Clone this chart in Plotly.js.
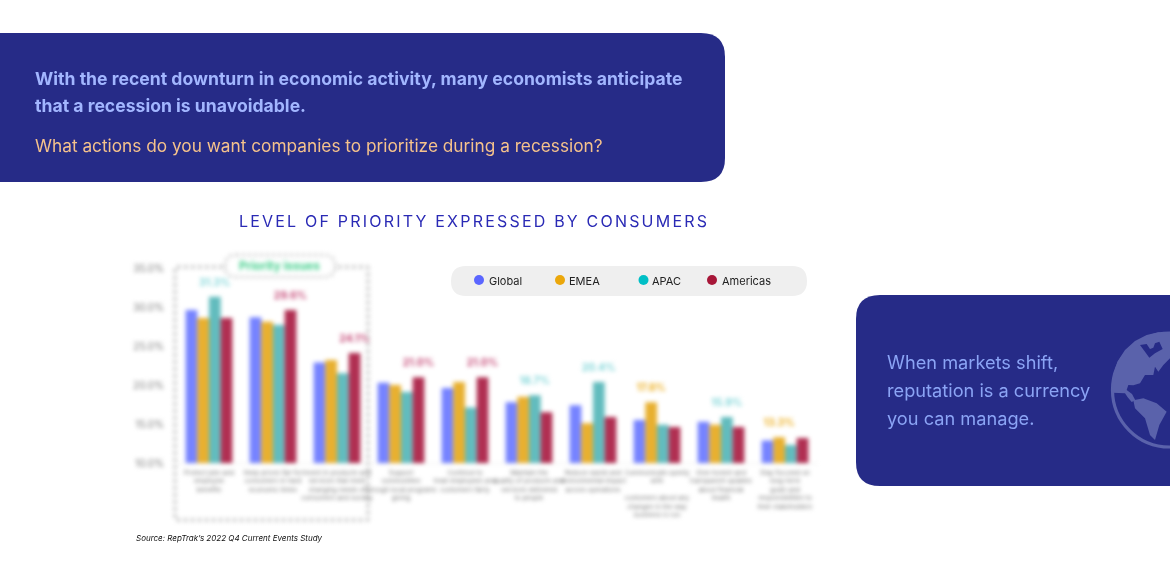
<!DOCTYPE html>
<html><head><meta charset="utf-8">
<script src="https://cdn.plot.ly/plotly-3.0.1.min.js"></script>
<style>html,body{margin:0;padding:0;background:#fff;overflow:hidden}#c{width:1170px;height:585px}
.cartesianlayer{filter:blur(2px)}</style>
</head><body><div id="c"></div>
<script>
const categories = [
 "Protect jobs and<br>employee<br>benefits",
 "Keep prices fair for<br>consumers in hard<br>economic times",
 "Invest in products and<br>services that meet<br>changing needs of<br>consumers and society",
 "Support<br>communities<br>through local programs<br>giving",
 "Continue to<br>treat employees and<br>customers fairly",
 "Maintain the<br>quality of products and<br>services delivered<br>to people",
 "Reduce waste and<br>environmental impact<br>across operations",
 "Communicate openly<br>with<br> <br>customers about any<br>changes in the way<br>business is run",
 "Give honest and<br>transparent updates<br>about financial<br>health",
 "Stay focused on<br>long-term<br>goals and<br>responsibilities to<br>their stakeholders"];
const seriesNames = ["Global","EMEA","APAC","Americas"];
const globalValues   = [29.6,28.7,22.9,20.3,19.6,17.8,17.4,15.5,15.3,12.9];
const emeaValues     = [28.6,28.1,23.2,20.0,20.4,18.5,15.1,17.8,14.9,13.3];
const apacValues     = [31.3,27.7,21.5,19.1,17.1,18.7,20.4,14.9,15.9,12.3];
const americasValues = [28.6,29.6,24.1,21.0,21.0,16.5,15.9,14.6,14.6,13.2];
const yTickValues = [10,15,20,25,30,35];
const yTickLabels = ["10.0%","15.0%","20.0%","25.0%","30.0%","35.0%"];
const barColors   = ["#7683ff","#e8b030","#62bcbe","#b02f52"];
const labelColors = ["#5b6bff","#eba70b","#74d2d5","#c0386a"];
const dotColors   = ["#5b66ff","#eba70b","#00bfc6","#a71638"];
const legendDotX  = [479,560,643.5,712];
const legendTextX = [487,567,650,720];

const all = [globalValues,emeaValues,apacValues,americasValues];
const xs = categories.map((_,i)=>i);
const gap = 0.27, w = (1-gap)/4;
const traces = [];
all.forEach((vals,s)=>traces.push({type:'bar',name:seriesNames[s],x:xs,y:vals,
  marker:{color:barColors[s]},hoverinfo:'skip',showlegend:false,cliponaxis:false}));
all.forEach((vals,s)=>{
  const ix = xs.filter(i=>Math.max(all[0][i],all[1][i],all[2][i],all[3][i])===vals[i] && all.findIndex(a=>a[i]===vals[i])===s);
  traces.push({type:'scatter',mode:'text',x:ix.map(i=>i+(s-1.5)*w),y:ix.map(i=>vals[i]+1.75),
    text:ix.map(i=>vals[i].toFixed(1)+'%'),textfont:{family:'Inter',size:10.5,color:labelColors[s],weight:600},
    hoverinfo:'skip',showlegend:false,cliponaxis:false});
});

const L=177,R=817,T=268,B=463;
const px=x=>(x-L)/(R-L), py=y=>(B-y)/(B-T);
const P=(x,y)=>px(x).toFixed(5)+','+py(y).toFixed(5);
function rr(x0,y0,x1,y1,r){return 'M'+P(x0+r,y0)+' L'+P(x1-r,y0)+' Q'+P(x1,y0)+' '+P(x1,y0+r)+' L'+P(x1,y1-r)+' Q'+P(x1,y1)+' '+P(x1-r,y1)+' L'+P(x0+r,y1)+' Q'+P(x0,y1)+' '+P(x0,y1-r)+' L'+P(x0,y0+r)+' Q'+P(x0,y0)+' '+P(x0+r,y0)+' Z';}
const G=([x,y])=>P(1100+x/3,325+y/3);
const poly=a=>'M'+a.map(G).join(' L')+' Z';
const NAVY='#262b87', LAND='#5a62ab';
const base={xref:'paper',yref:'paper'};
const fill=(path,c)=>({...base,type:'path',path,fillcolor:c,line:{width:0},layer:'below'});
const shapes=[
 fill(rr(-30,33,725,182,24),NAVY),
 fill(rr(856,295,1210,486,24),NAVY),
 fill(rr(451,266,807,296,15),'#efefef'),
 {...base,type:'circle',x0:px(1112.5),x1:px(1226.5),y0:py(447),y1:py(333),fillcolor:NAVY,line:{color:LAND,width:3.2},layer:'below'},
 fill(poly([[210,25],[175,22],[140,30],[105,48],[75,75],[52,110],[40,150],[37,203],[75,205],[83,217],[95,231],[106,226],[96,207],[80,195],[85,180],[100,181],[120,175],[135,150],[160,150],[165,125],[175,140],[190,120],[210,100]]),LAND),
 fill(poly([[120,60],[140,57],[150,72],[160,68],[165,55],[178,50],[188,72],[165,85],[148,98],[136,82]]),NAVY),
 fill(poly([[100,226],[130,220],[170,235],[200,260],[178,300],[165,345],[150,330],[135,280],[105,250]]),LAND),
 {...base,type:'path',path:rr(175,267,368,520,2),fillcolor:'rgba(0,0,0,0)',line:{color:'#c4c4c4',width:3.5,dash:'dot'},layer:'below'},
 {...base,type:'path',path:rr(225,255,335,277,11),fillcolor:'#ffffff',line:{color:'#d0d0d0',width:3,dash:'dot'},layer:'below'}
];
const BLUR_SHAPES=[7,8];
dotColors.forEach((c,i)=>shapes.push({...base,type:'circle',x0:px(legendDotX[i]-5),x1:px(legendDotX[i]+5),y0:py(285),y1:py(275),fillcolor:c,line:{width:0}}));

const A=(text,x,y,size,color,extra={})=>({xref:'paper',yref:'paper',x:px(x),y:py(y),xanchor:'left',yanchor:'middle',showarrow:false,align:'left',text,
  font:{family:'Inter',size,color,...extra}});
const BODY='#a2b6ff', ORANGE='#f5c28c', SIDE='#8ba4f5';
const annotations=[
 A('With the recent downturn in economic activity, many economists anticipate',33,79,17.6,BODY,{weight:700}),
 A('that a recession is unavoidable.',33,105,17.6,BODY,{weight:700}),
 A('What actions do you want companies to prioritize during a recession?',33,145,17.25,ORANGE),
 A('LEVEL OF PRIORITY EXPRESSED BY CONSUMERS',237,221,16,'#2a2ab5'),
 A('When markets shift,',885,362,18.2,SIDE),
 A('reputation is a currency',885,390,18.2,SIDE),
 A('you can manage.',885,418,18.2,SIDE),
 A('Source: RepTrak\u2019s 2022 Q4 Current Events Study',134,538,8,'#111111',{style:'italic'}),
 A('Priority issues',237,266,11.5,'#3fce8a',{weight:700})
];
const TITLE_AN=3, BLUR_AN=[8];
seriesNames.forEach((n,i)=>annotations.push(A(n,legendTextX[i],280.5,11,'#222222')));

const layout={width:1170,height:585,margin:{l:L,r:1170-R,t:T,b:585-B,pad:0},
 paper_bgcolor:'#fff',plot_bgcolor:'rgba(0,0,0,0)',barmode:'group',bargap:gap,bargroupgap:0,showlegend:false,
 xaxis:{type:'linear',range:[-0.5,9.5],tickmode:'array',tickvals:xs,ticktext:categories,ticks:'',ticklabelstandoff:3,showgrid:false,zeroline:false,showline:true,linecolor:'#eeeeee',
   tickangle:0,tickfont:{family:'Inter',size:6.5,color:'#777777'}},
 yaxis:{range:[10,35],tickmode:'array',tickvals:yTickValues,ticktext:yTickLabels,showgrid:false,zeroline:false,showline:false,ticks:'',ticklabelstandoff:12,
   tickfont:{family:'Inter',size:10,color:'#7a7a7a'}},
 shapes,annotations};
Plotly.newPlot('c',traces,layout,{displayModeBar:false,staticPlot:true}).then(()=>{
  const root=document.getElementById('c');
  BLUR_SHAPES.forEach(i=>root.querySelectorAll('.shapelayer path[data-index="'+i+'"]').forEach(e=>e.style.filter='blur(2px)'));
  BLUR_AN.forEach(i=>root.querySelectorAll('.annotation[data-index="'+i+'"]').forEach(e=>e.style.filter='blur(2px)'));
  root.querySelectorAll('.annotation[data-index="'+TITLE_AN+'"] text').forEach(e=>e.style.letterSpacing='2.2px');
});
</script></body></html>
